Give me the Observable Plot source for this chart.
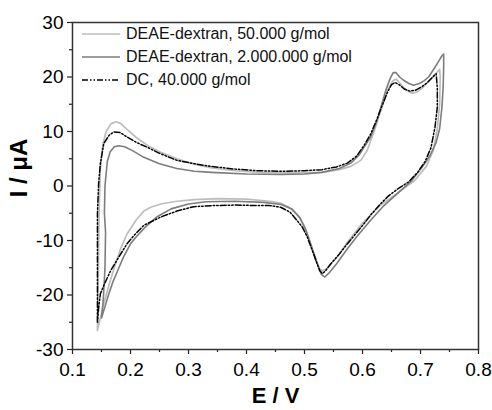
<!DOCTYPE html>
<html>
<head>
<meta charset="utf-8">
<script src="https://cdn.jsdelivr.net/npm/d3@7"></script>
<script src="https://cdn.jsdelivr.net/npm/@observablehq/plot@0.6"></script>
<style>
  html, body { margin: 0; padding: 0; background: #fff; }
  #wrap { position: relative; width: 492px; height: 410px; font-family: "Liberation Sans", Arial, sans-serif; }
  #legend { position: absolute; left: 82px; top: 22px; font-size: 16px; color: #111; }
  .row { display: flex; align-items: center; height: 23px; }
  .row svg { margin-right: 6px; }
</style>
</head>
<body>
<div id="wrap"><div id="legend"></div></div>
<script>
// Series names
const seriesNames = ["DEAE-dextran, 50.000 g/mol", "DEAE-dextran, 2.000.000 g/mol", "DC, 40.000 g/mol"];

// Tick values
const xTicks = [0.1, 0.2, 0.3, 0.4, 0.5, 0.6, 0.7, 0.8];
const xMinor = [0.15, 0.25, 0.35, 0.45, 0.55, 0.65, 0.75];
const yTicks = [-30, -20, -10, 0, 10, 20, 30];
const yMinor = [-25, -15, -5, 5, 15, 25];

// DEAE-dextran 50.000 g/mol (light gray): potential E (V) and current I (µA), in scan order
const lightE = [0.143,0.144,0.145,0.146,0.148,0.152,0.158,0.166,0.175,0.183,0.194,0.21,0.23,0.252,0.28,0.31,0.34,0.38,0.42,0.46,0.50,0.53,0.56,0.58,0.597,0.608,0.62,0.632,0.643,0.652,0.658,0.665,0.675,0.685,0.695,0.705,0.718,0.728,0.733,
  0.734,0.733,0.729,0.722,0.71,0.69,0.66,0.63,0.60,0.575,0.555,0.54,0.532,0.526,0.518,0.508,0.498,0.487,0.475,0.46,0.44,0.40,0.35,0.31,0.28,0.252,0.235,0.223,0.21,0.194,0.183,0.172,0.162,0.153,0.147,0.143];
const lightI = [-26.5,-20,-12,-4,3,7.5,10,11.4,11.8,11.5,10.4,8.9,7.4,6.2,5.0,4.0,3.3,2.8,2.5,2.4,2.4,2.5,3.0,3.6,4.7,6.5,10,14,17.5,19.3,19.6,18.8,17.6,17.0,17.3,18.2,19.6,20.8,21.4,
  20,15,10.5,6.5,3.6,1.0,-1.3,-3.6,-6.8,-10.2,-13.2,-15,-15.6,-15.2,-13,-10,-7.0,-5.2,-4.0,-3.2,-2.8,-2.4,-2.3,-2.5,-2.8,-3.3,-3.9,-4.6,-6.2,-8.8,-11.5,-15,-18.5,-22,-24.7,-26.5];

// DEAE-dextran 2.000.000 g/mol (dark gray)
const darkE = [0.150,0.153,0.156,0.157,0.155,0.156,0.16,0.165,0.172,0.18,0.19,0.205,0.222,0.25,0.28,0.31,0.34,0.40,0.46,0.50,0.53,0.56,0.58,0.595,0.605,0.614,0.625,0.64,0.648,0.653,0.658,0.664,0.671,0.68,0.688,0.698,0.706,0.714,0.725,0.732,0.737,0.740,
  0.740,0.739,0.737,0.733,0.727,0.716,0.703,0.685,0.66,0.635,0.614,0.59,0.574,0.555,0.542,0.535,0.529,0.521,0.512,0.503,0.492,0.478,0.46,0.43,0.38,0.33,0.30,0.27,0.245,0.225,0.21,0.2,0.188,0.178,0.17,0.162,0.155,0.150];
const darkI = [-24.2,-21,-15,-8.5,-5,0,4.5,6.3,7.2,7.4,7.2,6.4,5.3,4.1,3.2,2.7,2.5,2.2,2.1,2.2,2.5,3.2,4.2,5.8,7.5,9.0,12,17.5,19.8,20.8,20.8,20.0,19.4,18.8,18.5,18.8,19.3,20.0,21.8,23.0,23.9,24.2,
  22,18,14.5,10.5,8,5.5,3.5,1.0,-1.4,-3.8,-6.3,-9.3,-11.5,-14.3,-16,-16.7,-16.2,-14,-11,-8.2,-5.8,-4.2,-3.4,-3.0,-2.8,-2.9,-3.3,-4.2,-5.7,-7.6,-9.3,-10.6,-13,-15.5,-17.5,-20,-22.5,-24.2];

// DC 40.000 g/mol (black, dash-dot-dot)
const dcE = [0.143,0.143,0.143,0.143,0.145,0.148,0.154,0.163,0.171,0.182,0.194,0.21,0.229,0.25,0.28,0.31,0.338,0.38,0.42,0.46,0.50,0.53,0.555,0.574,0.59,0.603,0.614,0.625,0.634,0.643,0.65,0.656,0.663,0.672,0.682,0.692,0.702,0.712,0.722,0.727,
  0.729,0.729,0.725,0.718,0.708,0.695,0.68,0.66,0.645,0.631,0.615,0.602,0.588,0.574,0.56,0.545,0.536,0.531,0.526,0.522,0.514,0.505,0.496,0.487,0.475,0.459,0.44,0.424,0.38,0.34,0.309,0.28,0.252,0.223,0.205,0.194,0.18,0.166,0.155,0.148,0.145,0.143];
const dcI = [-25,-18,-10,-5,0.4,4.1,7.8,9.3,9.9,9.8,9.0,8.0,7.1,6.0,4.7,4.1,3.6,3.1,2.8,2.7,2.8,3.0,3.5,4.2,5.5,7.5,9.5,12.3,14.8,17.2,18.6,19.0,18.6,17.8,17.4,17.6,18.2,19.0,20.1,20.6,
  18,14.5,10.8,7,4.5,2.5,0.8,-0.6,-1.8,-3.3,-5.2,-7.0,-8.8,-10.6,-12.5,-14.3,-15.6,-16.1,-15.5,-14.3,-12,-9.4,-7.5,-6.3,-4.8,-3.9,-3.6,-3.6,-3.5,-3.6,-3.8,-4.6,-5.7,-7.2,-9.2,-10.6,-13,-15.5,-18,-19.8,-22.5,-25];

const colors = ["#bdbdbd", "#7d7d7d", "#000000"];
const dashes = [null, null, "6,2,1.5,2,1.5,2"];

const toRows = (E, I) => E.map((e, k) => ({E: e, I: I[k]}));
const light = toRows(lightE, lightI);
const dark = toRows(darkE, darkI);
const dc = toRows(dcE, dcI);

const font = "Liberation Sans, Arial, sans-serif";

const chart = Plot.plot({
  width: 492,
  height: 410,
  marginLeft: 72,
  marginRight: 14,
  marginTop: 22,
  marginBottom: 61,
  style: {fontFamily: font, background: "#fff", color: "#000", overflow: "visible"},
  x: {domain: [0.1, 0.8], axis: null},
  y: {domain: [-30, 30], axis: null},
  marks: [
    Plot.line(light, {x: "E", y: "I", stroke: colors[0], strokeWidth: 1.7, curve: "linear"}),
    Plot.line(dark, {x: "E", y: "I", stroke: colors[1], strokeWidth: 1.6, curve: "linear"}),
    Plot.line(dc, {x: "E", y: "I", stroke: colors[2], strokeWidth: 1.5, strokeDasharray: dashes[2], curve: "linear"}),
    Plot.axisX(xTicks, {tickSize: 5, tickPadding: 8, fontSize: 19, tickFormat: d3.format(".1f"), label: null, stroke: "#222", strokeWidth: 1.2}),
    Plot.axisX(xMinor, {tickSize: 3, tickFormat: () => "", label: null, stroke: "#222", strokeWidth: 1.2}),
    Plot.axisY(yTicks, {tickSize: 5, tickPadding: 4, fontSize: 19, tickFormat: d => String(d).replace("\u2212", "-"), label: null, stroke: "#222", strokeWidth: 1.2}),
    Plot.axisY(yMinor, {tickSize: 3, tickFormat: () => "", label: null, stroke: "#222", strokeWidth: 1.2}),
    Plot.frame({stroke: "#333", strokeWidth: 1.5}),
    Plot.text(["E / V"], {frameAnchor: "bottom", textAnchor: "middle", lineAnchor: "middle", dy: 46, fontSize: 22, fontWeight: "bold", fill: "#000"}),
    Plot.text(["I / \u03BCA"], {frameAnchor: "left", textAnchor: "middle", lineAnchor: "middle", dx: -53, dy: -18, rotate: -90, fontSize: 24, fontWeight: "bold", fill: "#000"})
  ]
});
const wrap = document.getElementById("wrap");
wrap.insertBefore(chart, wrap.firstChild);

// Legend (HTML overlay inside the plot area)
const legend = document.getElementById("legend");
seriesNames.forEach((name, k) => {
  const row = document.createElement("div");
  row.className = "row";
  const dash = dashes[k] ? ` stroke-dasharray="${dashes[k]}"` : "";
  row.innerHTML = `<svg width="38" height="6"><line x1="0" y1="3" x2="38" y2="3" stroke="${colors[k]}" stroke-width="1.7"${dash}/></svg><span>${name}</span>`;
  legend.appendChild(row);
});
</script>
</body>
</html>
